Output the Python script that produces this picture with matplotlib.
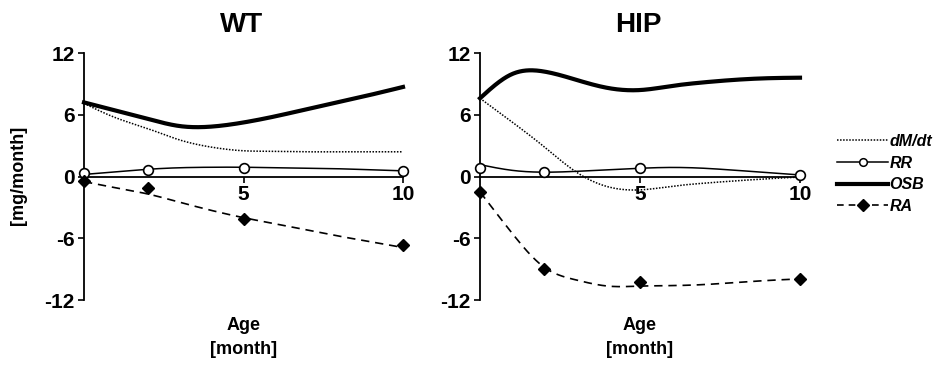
import numpy as np
import matplotlib
matplotlib.use("Agg")
import matplotlib.pyplot as plt
from matplotlib.lines import Line2D

plt.rcParams['font.family'] = ['Liberation Sans', 'DejaVu Sans']
plt.rcParams['font.weight'] = 'bold'
plt.rcParams['axes.unicode_minus'] = False

# marker ages (months)
ages = [0, 2, 5, 10]
# curve read-off ages (months)
curve_ages = [0, 1, 2, 3, 4, 5, 6, 7, 8, 9, 10]

# WT
wt_rr_pts = [0.3, 0.65, 0.87, 0.58]
wt_ra_pts = [-0.45, -1.13, -4.1, -6.7]
wt_dmdt = [7.1, 5.7, 4.65, 3.55, 2.85, 2.5, 2.45, 2.4, 2.4, 2.4, 2.4]
wt_rr = [0.2, 0.45, 0.7, 0.85, 0.9, 0.9, 0.85, 0.8, 0.75, 0.65, 0.55]
wt_osb = [7.2, 6.4, 5.6, 4.9, 4.85, 5.25, 5.85, 6.55, 7.25, 7.95, 8.7]
wt_ra = [-0.5, -1.1, -1.7, -2.5, -3.3, -4.0, -4.6, -5.2, -5.8, -6.35, -6.9]

# HIP
hip_rr_pts = [0.8, 0.42, 0.8, 0.16]
hip_ra_pts = [-1.52, -8.96, -10.26, -9.93]
hip_dmdt = [7.6, 5.3, 2.9, 0.45, -1.0, -1.3, -0.95, -0.65, -0.42, -0.22, -0.05]
hip_rr = [1.15, 0.6, 0.42, 0.5, 0.65, 0.8, 0.88, 0.8, 0.6, 0.38, 0.15]
hip_osb = [7.6, 9.95, 10.2, 9.4, 8.6, 8.4, 8.8, 9.15, 9.4, 9.55, 9.6]
hip_ra = [-1.5, -5.5, -8.8, -10.05, -10.65, -10.65, -10.6, -10.5, -10.3, -10.1, -9.95]

yticks = [-12, -6, 0, 6, 12]
xticks = [5, 10]


def smooth(x, y, n=300):
    # natural cubic spline, only for drawing the smoothed line
    x = np.asarray(x, float)
    y = np.asarray(y, float)
    m = len(x)
    h = np.diff(x)
    A = np.zeros((m, m))
    b = np.zeros(m)
    A[0, 0] = A[-1, -1] = 1
    for i in range(1, m - 1):
        A[i, i - 1] = h[i - 1]
        A[i, i] = 2 * (h[i - 1] + h[i])
        A[i, i + 1] = h[i]
        b[i] = 3 * ((y[i + 1] - y[i]) / h[i] - (y[i] - y[i - 1]) / h[i - 1])
    c = np.linalg.solve(A, b)
    xs = np.linspace(x[0], x[-1], n)
    idx = np.clip(np.searchsorted(x, xs) - 1, 0, m - 2)
    t = xs - x[idx]
    hi = h[idx]
    bb = (y[idx + 1] - y[idx]) / hi - hi * (2 * c[idx] + c[idx + 1]) / 3
    dd = (c[idx + 1] - c[idx]) / (3 * hi)
    return xs, y[idx] + bb * t + c[idx] * t ** 2 + dd * t ** 3


fig = plt.figure(figsize=(9.38, 3.72), dpi=100)
ax1 = fig.add_axes([84 / 938, 72 / 372, 319 / 938, 247 / 372])
ax2 = fig.add_axes([480 / 938, 72 / 372, 320 / 938, 247 / 372])

panels = [
    (ax1, "WT", wt_dmdt, wt_rr, wt_osb, wt_ra, wt_rr_pts, wt_ra_pts),
    (ax2, "HIP", hip_dmdt, hip_rr, hip_osb, hip_ra, hip_rr_pts, hip_ra_pts),
]

for ax, name, dmdt, rr, osb, ra, rr_pts, ra_pts in panels:
    ax.plot(*smooth(curve_ages, dmdt), color='black', lw=1.1, ls=(0, (1, 1)), clip_on=False)
    ax.plot(*smooth(curve_ages, rr), color='black', lw=1.1, clip_on=False)
    ax.plot(*smooth(curve_ages, osb), color='black', lw=3.0, clip_on=False)
    ax.plot(*smooth(curve_ages, ra), color='black', lw=1.2, ls=(0, (5, 3.5)), clip_on=False)
    ax.plot(ages, rr_pts, ls='none', marker='o', ms=7, mfc='white', mec='black',
            mew=1.2, clip_on=False, zorder=5)
    ax.plot(ages, ra_pts, ls='none', marker='D', ms=6.5, color='black',
            clip_on=False, zorder=5)

    ax.set_xlim(0, 10)
    ax.set_ylim(-12, 12)
    ax.spines['top'].set_visible(False)
    ax.spines['right'].set_visible(False)
    ax.spines['bottom'].set_position(('data', 0))
    ax.spines['left'].set_position(('data', 0))
    ax.spines['left'].set_linewidth(1.3)
    ax.spines['bottom'].set_linewidth(1.3)
    ax.set_yticks(yticks)
    ax.set_xticks(xticks)
    ax.tick_params(axis='y', length=4.5, width=1.2, pad=2, labelsize=15)
    ax.tick_params(axis='x', length=4, width=1.2, pad=2, labelsize=15)
    for lab in ax.get_xticklabels() + ax.get_yticklabels():
        lab.set_fontweight('bold')
    ax.patch.set_visible(False)

    cx = (ax.get_position().x0 + ax.get_position().x1) / 2
    fig.text(cx - 2 / 938, 1 - 25 / 372, name, ha='center', va='center', fontsize=20, fontweight='bold')
    fig.text(cx, 1 - 325 / 372, "Age", ha='center', va='center', fontsize=13, fontweight='bold')
    fig.text(cx, 1 - 350 / 372, "[month]", ha='center', va='center', fontsize=13, fontweight='bold')

fig.text(18 / 938, 1 - 175 / 372, "[mg/month]", rotation=90, ha='center', va='center',
         fontsize=13, fontweight='bold')

handles = [
    Line2D([], [], color='black', lw=1.1, ls=(0, (1, 1))),
    Line2D([], [], color='black', lw=1.1, marker='o', ms=5.5, mfc='white', mec='black', mew=1.1),
    Line2D([], [], color='black', lw=3.0),
    Line2D([], [], color='black', lw=1.2, ls=(0, (4, 3)), marker='D', ms=6),
]
leg = fig.legend(handles, ["dM/dt", "RR", "OSB", "RA"], loc='center left',
                 bbox_to_anchor=(837 / 938, 1 - 174 / 372), frameon=False,
                 handlelength=3.2, handletextpad=0.1, borderpad=0, borderaxespad=0,
                 labelspacing=0.42, numpoints=1,
                 prop={'size': 11.5, 'weight': 'bold', 'style': 'italic'})

fig.savefig("out.png", dpi=100)
